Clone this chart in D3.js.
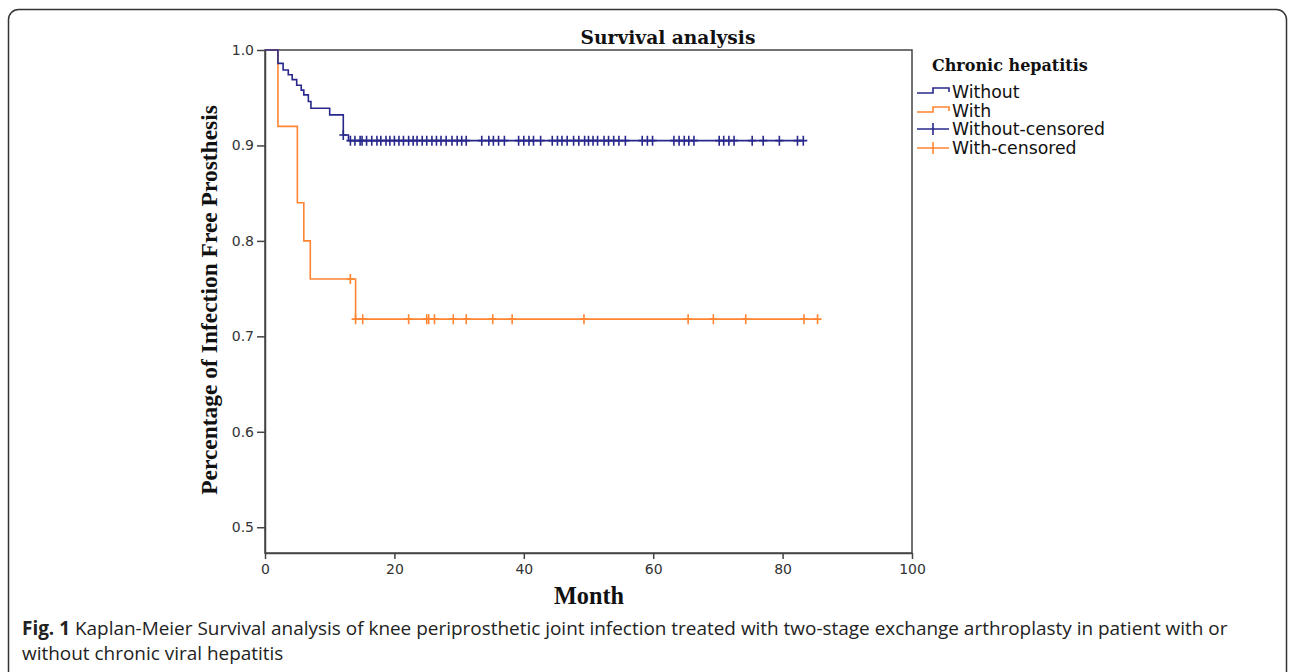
<!DOCTYPE html>
<html>
<head>
<meta charset="utf-8">
<script src="https://cdn.jsdelivr.net/npm/d3@7"></script>
<style>
  body { margin: 0; background: #fff; }
</style>
</head>
<body>
<div id="chart"></div>
<script>
// Kaplan-Meier curves
var xTicks = [0, 20, 40, 60, 80, 100];
var yTicks = [0.5, 0.6, 0.7, 0.8, 0.9, 1.0];

// without chronic hepatitis
var withoutTimes = [0, 2.0, 2.8, 3.6, 4.2, 4.9, 5.6, 6.0, 6.7, 7.1, 10.0, 12.1, 12.9];
var withoutSurv = [1, 0.986, 0.979, 0.974, 0.969, 0.963, 0.958, 0.953, 0.946, 0.939, 0.932, 0.911, 0.905];
var withoutCensored = [12.1, 13.2, 13.9, 14.7, 15.0, 15.7, 16.5, 17.3, 17.9, 18.7, 19.3, 20.0, 20.7,
  21.4, 22.2, 22.9, 23.5, 24.3, 25.0, 25.8, 26.5, 27.2, 28.0, 28.9, 29.7, 30.4, 31.1, 33.5, 34.6,
  35.3, 36.1, 37.0, 39.2, 40.0, 40.8, 41.5, 42.6, 44.4, 45.2, 45.9, 46.7, 47.7, 48.5, 49.4, 50.0,
  50.7, 51.4, 52.4, 53.1, 53.9, 54.7, 55.7, 58.3, 59.1, 59.9, 63.2, 64.0, 64.8, 65.5, 66.3, 70.2,
  70.9, 71.7, 72.5, 75.3, 77.0, 79.5, 82.3, 83.2];

// with chronic hepatitis
var withTimes = [0, 2, 5, 6, 7, 14];
var withSurv = [1, 0.92, 0.84, 0.80, 0.76, 0.718];
var withCensored = [13.2, 14.0, 15.1, 22.2, 25.0, 25.3, 26.2, 29.1, 31.1, 35.2, 38.2, 49.3,
  65.4, 69.3, 74.3, 83.3, 85.4];

var legendLabels = ["Without", "With", "Without-censored", "With-censored"];

var blue = "#28288c";
var orange = "#ff8533";

var svgWidth = 1290;
var svgHeight = 672;

var margin = {top: 50, right: 378, bottom: 119, left: 265};
var width = svgWidth - margin.left - margin.right;
var height = svgHeight - margin.top - margin.bottom;

var svg = d3.select("#chart")
  .append("svg")
  .attr("width", svgWidth)
  .attr("height", svgHeight);

// figure frame
svg.append("rect")
  .attr("x", 8.5).attr("y", 9.5)
  .attr("width", 1278).attr("height", 720)
  .attr("rx", 10)
  .attr("fill", "none")
  .attr("stroke", "#333")
  .attr("stroke-width", 1.5);

// scale a text so it fills the wanted width
function fitWidth(sel, w) {
  var fs = parseFloat(sel.attr("font-size"));
  var len = sel.node().getComputedTextLength();
  sel.attr("font-size", fs * w / len);
  return fs * w / len;
}

var chartGroup = svg.append("g")
  .attr("transform", `translate(${margin.left}, ${margin.top})`);

var xScale = d3.scaleLinear().domain([0, 100]).range([0, width]);
var yScale = d3.scaleLinear().domain([0.473, 1.0]).range([height, 0]);

// box
chartGroup.append("rect")
  .attr("width", width).attr("height", height)
  .attr("fill", "none")
  .attr("stroke", "#444")
  .attr("stroke-width", 1.5);

var bottomAxis = d3.axisBottom(xScale).tickValues(xTicks).tickSize(6).tickSizeOuter(0);
var leftAxis = d3.axisLeft(yScale).tickValues(yTicks).tickSize(8).tickSizeOuter(0)
  .tickFormat(d3.format(".1f"));

var xAxis = chartGroup.append("g")
  .attr("transform", `translate(0, ${height})`)
  .call(bottomAxis);
var yAxis = chartGroup.append("g").call(leftAxis);

[xAxis, yAxis].forEach(function(ax) {
  ax.attr("font-size", 14).attr("font-family", "DejaVu Sans");
  ax.select(".domain").attr("stroke", "#444").attr("stroke-width", 1.5);
  ax.selectAll(".tick line").attr("stroke", "#444").attr("stroke-width", 1.5);
  ax.selectAll(".tick text").attr("fill", "#333");
});
xAxis.selectAll(".tick text").attr("dy", "0.85em");
yAxis.selectAll(".tick text").attr("x", -11);

// survival step lines
function stepPoints(times, surv, end) {
  var pts = times.map((t, i) => [t, surv[i]]);
  pts.push([end, surv[surv.length - 1]]);
  return pts;
}
function survAt(times, surv, t) {
  var s = surv[0];
  times.forEach((tt, i) => { if (tt <= t) s = surv[i]; });
  return s;
}

var stepLine = d3.line()
  .x(d => xScale(d[0]))
  .y(d => yScale(d[1]))
  .curve(d3.curveStepAfter);

var series = [
  {times: withTimes, surv: withSurv, cens: withCensored, color: orange},
  {times: withoutTimes, surv: withoutSurv, cens: withoutCensored, color: blue}
];

series.forEach(function(s) {
  var end = d3.max(s.cens);
  chartGroup.append("path")
    .attr("d", stepLine(stepPoints(s.times, s.surv, end)))
    .attr("fill", "none")
    .attr("stroke", s.color)
    .attr("stroke-width", 1.6);

  var marks = chartGroup.append("g");
  s.cens.forEach(function(t) {
    var cx = xScale(t);
    var cy = yScale(survAt(s.times, s.surv, t));
    marks.append("path")
      .attr("d", `M${cx},${cy - 5}V${cy + 5}M${cx - 4},${cy}H${cx + 4}`)
      .attr("stroke", s.color)
      .attr("stroke-width", 1.6)
      .attr("fill", "none");
  });
});

// title and axis titles
var title = svg.append("text")
  .attr("x", 668).attr("y", 44)
  .attr("text-anchor", "middle")
  .attr("font-family", "DejaVu Serif")
  .attr("font-weight", "bold")
  .attr("font-size", 17)
  .attr("fill", "#111")
  .text("Survival analysis");
fitWidth(title, 175);

var xTitle = svg.append("text")
  .attr("x", 589).attr("y", 604)
  .attr("text-anchor", "middle")
  .attr("font-family", "Liberation Serif")
  .attr("font-weight", "bold")
  .attr("font-size", 22)
  .attr("fill", "#111")
  .text("Month");
fitWidth(xTitle, 70);

var yTitle = svg.append("text")
  .attr("transform", "translate(217, 300) rotate(-90)")
  .attr("text-anchor", "middle")
  .attr("font-family", "Liberation Serif")
  .attr("font-weight", "bold")
  .attr("font-size", 22)
  .attr("fill", "#111")
  .text("Percentage of Infection Free Prosthesis");
fitWidth(yTitle, 390);

// legend
var legend = svg.append("g").attr("transform", "translate(917, 0)");

var legTitle = legend.append("text")
  .attr("x", 15).attr("y", 71)
  .attr("font-family", "DejaVu Serif")
  .attr("font-weight", "bold")
  .attr("font-size", 15)
  .attr("fill", "#111")
  .text("Chronic hepatitis");
fitWidth(legTitle, 156);

var legColors = [blue, orange, blue, orange];
var rowY = [92, 111, 129, 148];

legendLabels.forEach(function(lab, i) {
  var y = rowY[i];
  if (i < 2) {
    legend.append("path")
      .attr("d", `M0,${y + 1}H16V${y - 4}H32V${y}`)
      .attr("fill", "none")
      .attr("stroke", legColors[i])
      .attr("stroke-width", 1.6);
  } else {
    legend.append("path")
      .attr("d", `M0,${y}H32M16,${y - 6}V${y + 6}`)
      .attr("fill", "none")
      .attr("stroke", legColors[i])
      .attr("stroke-width", 1.6);
  }
  legend.append("text")
    .attr("class", "leg-text")
    .attr("x", 35).attr("y", y + 5.5)
    .attr("font-family", "DejaVu Sans")
    .attr("font-size", 15)
    .attr("fill", "#111")
    .text(lab);
});
var legSize = fitWidth(legend.selectAll(".leg-text").filter((d, i) => i === 2), 153);
legend.selectAll(".leg-text").attr("font-size", legSize);

// caption
var cap1 = svg.append("text")
  .attr("x", 22).attr("y", 635)
  .attr("font-family", "Open Sans")
  .attr("font-size", 17)
  .attr("fill", "#222");
cap1.append("tspan").attr("font-weight", "bold").text("Fig. 1");
cap1.append("tspan").text(" Kaplan-Meier Survival analysis of knee periprosthetic joint infection treated with two-stage exchange arthroplasty in patient with or");
var capSize = fitWidth(cap1, 1206);

svg.append("text")
  .attr("x", 22).attr("y", 660)
  .attr("font-family", "Open Sans")
  .attr("font-size", capSize)
  .attr("fill", "#222")
  .text("without chronic viral hepatitis");
</script>
</body>
</html>
